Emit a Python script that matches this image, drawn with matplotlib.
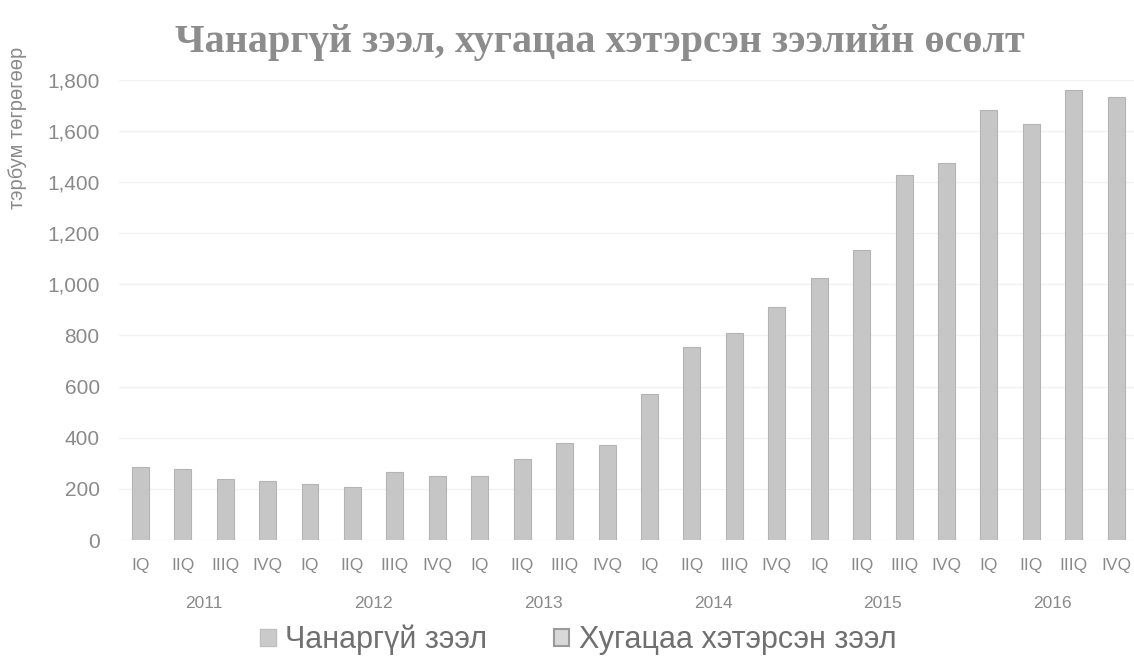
import matplotlib.pyplot as plt
import numpy as np
from matplotlib.patches import Patch
from matplotlib.ticker import FuncFormatter

plt.rcParams['font.family'] = ['Liberation Sans', 'DejaVu Sans']

# data (тэрбум төгрөг)
years = ['2011', '2012', '2013', '2014', '2015', '2016']
quarters = ['IQ', 'IIQ', 'IIIQ', 'IVQ']
values = [286, 278, 239, 231,
          219, 207, 266, 250,
          252, 315, 378, 370,
          571, 755, 810, 913,
          1023, 1135, 1426, 1475,
          1680, 1626, 1760, 1733]
series_names = ['Чанаргүй зээл', 'Хугацаа хэтэрсэн зээл']

txt = '#8a8a8a'

fig = plt.figure(figsize=(11.34, 6.7), dpi=100)
ax = fig.add_axes([0.105, 0.194, 0.898, 0.687])

x = np.arange(len(values))
ax.bar(x, values, width=0.4, color='#c6c6c6', edgecolor='#b4b4b4', linewidth=0.8, zorder=2)

ax.set_xlim(-0.5, len(values) - 0.5)
ax.set_ylim(0, 1800)
ax.set_yticks(np.arange(0, 1801, 200))
ax.yaxis.set_major_formatter(FuncFormatter(lambda v, p: f'{int(v):,}'))
ax.grid(axis='y', color='#f2f2f2', linewidth=1, zorder=0)
for s in ax.spines.values():
    s.set_visible(False)
ax.tick_params(length=0, colors=txt)
ax.tick_params(axis='y', pad=14, labelsize=15)
ax.set_xticks(x)
ax.set_xticklabels(quarters * len(years), fontsize=12.5)
ax.tick_params(axis='x', pad=13)

# year labels under each group of quarters
for k, yr in enumerate(years):
    ax.text(4 * k + 1.5, -0.137, yr, transform=ax.get_xaxis_transform(),
            ha='center', va='center', fontsize=12.5, color=txt)

ax.set_ylabel('тэрбум төгрөгөөр', fontsize=14.5, color=txt)
ax.yaxis.set_label_coords(-0.09, 0.895)

fig.text(0.529, 0.937, 'Чанаргүй зээл, хугацаа хэтэрсэн зээлийн өсөлт',
         ha='center', va='center', fontsize=29, fontweight='bold',
         family=['Liberation Serif', 'DejaVu Serif'], color='#8c8c8c')

handles = [Patch(facecolor='#cacaca', edgecolor='#c0c0c0'),
           Patch(facecolor='#d8d8d8', edgecolor='#9a9a9a', linewidth=1.5)]
leg = fig.legend(handles, series_names, loc='center', bbox_to_anchor=(0.51, 0.045),
                 ncol=2, frameon=False, fontsize=22, handlelength=0.5, handleheight=0.5,
                 handletextpad=0.3, columnspacing=2.2)
for t in leg.get_texts():
    t.set_color('#707070')

fig.savefig('out.png', dpi=100)
